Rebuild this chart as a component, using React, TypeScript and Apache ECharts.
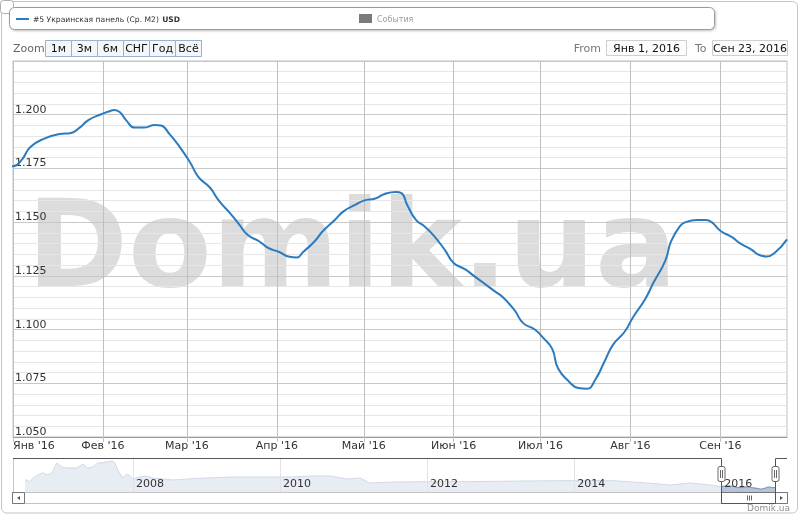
import React, { useEffect, useRef } from 'react';
import * as echarts from 'echarts';

const seriesName = '#5 Украинская панель (Ср. М2)';
const currencyName = 'USD';
const eventsName = 'События';
const zoomLabel = 'Zoom';
const zoomButtons = ['1м', '3м', '6м', 'СНГ', 'Год', 'Всё'];
const fromText = 'From';
const toText = 'To';
const fromValue = 'Янв 1, 2016';
const toValue = 'Сен 23, 2016';
const creditsText = 'Domik.ua';
const watermarkText = 'Domik.ua';
const monthNames = ['Янв', 'Фев', 'Мар', 'Апр', 'Май', 'Июн', 'Июл', 'Авг', 'Сен', 'Окт', 'Ноя', 'Дек'];

const monthTicks = ['2016-01-01', '2016-02-01', '2016-03-01', '2016-04-01', '2016-05-01', '2016-06-01', '2016-07-01', '2016-08-01', '2016-09-01'];
const yearTicks = ['2008-01-01', '2010-01-01', '2012-01-01', '2014-01-01', '2016-01-01'];
const selectionStart = '2016-01-01';

const mainDates = [
  '2015-12-27', '2016-01-01', '2016-01-04', '2016-01-07', '2016-01-12', '2016-01-17', '2016-01-21', '2016-01-24',
  '2016-01-27', '2016-01-31', '2016-02-03', '2016-02-05', '2016-02-07', '2016-02-09', '2016-02-12', '2016-02-15',
  '2016-02-19', '2016-02-21', '2016-02-24', '2016-02-27', '2016-03-02', '2016-03-05', '2016-03-09', '2016-03-12',
  '2016-03-16', '2016-03-19', '2016-03-22', '2016-03-26', '2016-03-29', '2016-04-02', '2016-04-05', '2016-04-08',
  '2016-04-10', '2016-04-14', '2016-04-17', '2016-04-21', '2016-04-24', '2016-04-28', '2016-05-01', '2016-05-05',
  '2016-05-08', '2016-05-12', '2016-05-14', '2016-05-16', '2016-05-19', '2016-05-22', '2016-05-25', '2016-05-29',
  '2016-06-01', '2016-06-05', '2016-06-08', '2016-06-11', '2016-06-15', '2016-06-18', '2016-06-22', '2016-06-25',
  '2016-06-29', '2016-07-02', '2016-07-05', '2016-07-07', '2016-07-11', '2016-07-14', '2016-07-17', '2016-07-20',
  '2016-07-23', '2016-07-26', '2016-07-30', '2016-08-02', '2016-08-06', '2016-08-09', '2016-08-13', '2016-08-15',
  '2016-08-18', '2016-08-20', '2016-08-24', '2016-08-27', '2016-08-29', '2016-09-01', '2016-09-05', '2016-09-08',
  '2016-09-12', '2016-09-14', '2016-09-17', '2016-09-20', '2016-09-24',
];
const mainValues = [
  1.176, 1.176, 1.179, 1.185, 1.189, 1.191, 1.1915, 1.194,
  1.1975, 1.2, 1.2015, 1.2022, 1.201, 1.1975, 1.194, 1.194,
  1.1952, 1.195, 1.191, 1.186, 1.178, 1.171, 1.166, 1.16,
  1.154, 1.149, 1.144, 1.141, 1.138, 1.136, 1.134, 1.1336,
  1.136, 1.141, 1.146, 1.151, 1.155, 1.158, 1.16, 1.161,
  1.163, 1.164, 1.1635, 1.158, 1.151, 1.148, 1.144, 1.137,
  1.131, 1.128, 1.125, 1.122, 1.118, 1.115, 1.109, 1.103,
  1.1, 1.096, 1.091, 1.082, 1.0755, 1.0728, 1.0725, 1.077,
  1.085, 1.093, 1.099, 1.106, 1.114, 1.122, 1.132, 1.141,
  1.148, 1.15, 1.151, 1.151, 1.15, 1.146, 1.143, 1.14,
  1.137, 1.135, 1.134, 1.136, 1.142,
];

const historyDates = [
  '2006-07-14', '2006-07-22', '2006-08-07', '2006-08-22', '2006-09-16', '2006-10-11', '2006-10-31', '2006-11-25',
  '2006-12-19', '2007-01-13', '2007-02-07', '2007-03-29', '2007-04-28', '2007-05-22', '2007-06-16', '2007-07-11',
  '2007-08-05', '2007-08-30', '2007-09-19', '2007-10-04', '2007-10-18', '2007-11-12', '2007-12-02', '2007-12-17',
  '2008-01-01', '2008-02-05', '2008-03-11', '2008-04-09', '2008-05-29', '2008-07-18', '2008-09-25', '2009-01-03',
  '2009-05-12', '2009-10-28', '2010-03-06', '2010-06-13', '2010-09-06', '2010-11-29', '2011-02-02', '2011-03-23',
  '2011-07-15', '2011-12-31', '2012-06-12', '2013-05-11', '2013-11-06', '2014-07-13', '2014-12-28', '2015-04-22',
  '2015-07-30', '2015-11-06',
];
const historyValues = [
  1.434, 1.434, 1.367, 1.513, 1.631, 1.722, 1.631, 1.71,
  2.105, 1.947, 1.907, 1.907, 2.065, 1.907, 1.947, 2.105,
  2.116, 2.156, 2.19, 2.105, 1.829, 1.513, 1.671, 1.592,
  1.474, 1.553, 1.592, 1.513, 1.474, 1.434, 1.474, 1.513,
  1.553, 1.553, 1.553, 1.592, 1.592, 1.474, 1.513, 1.316,
  1.355, 1.367, 1.367, 1.395, 1.407, 1.407, 1.316, 1.237,
  1.316, 1.237,
];

const FONT = 'DejaVu Sans';
const LINE_COLOR = '#2c7bbf';

const toTime = (s: string) => {
  const [y, m, d] = s.split('-').map(Number);
  return new Date(y, m - 1, d).getTime();
};

function buildGraphic(xs: number, xe: number) {
  const els: any[] = [];
  const mid = { verticalAlign: 'middle', textVerticalAlign: 'middle' };
  els.push({ type: 'rect', z: -5, shape: { x: 1.5, y: 1.5, width: 796, height: 511.5, r: 5 }, style: { fill: 'none', stroke: '#c4c4c4', lineWidth: 1 } });
  els.push({ type: 'rect', z: 20, shape: { x: 0.5, y: 0.5, width: 13, height: 13, r: 3 }, style: { fill: '#fff', stroke: '#b0b0b0', lineWidth: 1 } });
  els.push({ type: 'rect', z: 20, shape: { x: 9.5, y: 7.5, width: 705, height: 22, r: 5 }, style: { fill: '#fff', stroke: '#9a9a9a', lineWidth: 1, shadowBlur: 2, shadowOffsetX: 1, shadowOffsetY: 1, shadowColor: 'rgba(0,0,0,0.25)' } });
  els.push({ type: 'line', z: 21, shape: { x1: 16, y1: 19, x2: 29, y2: 19 }, style: { stroke: LINE_COLOR, lineWidth: 2 } });
  els.push({ type: 'text', z: 21, x: 33, y: 19, style: { ...mid, text: '{a|' + seriesName + '} {b|' + currencyName + '}', rich: { a: { fontSize: 7.6, fontFamily: FONT, fill: '#333' }, b: { fontSize: 7.6, fontFamily: FONT, fontWeight: 'bold', fill: '#333' } }, align: 'left' } });
  els.push({ type: 'rect', z: 21, shape: { x: 359, y: 14, width: 13, height: 9 }, style: { fill: '#7a7a7a' } });
  els.push({ type: 'text', z: 21, x: 377, y: 19, style: { ...mid, text: eventsName, fontSize: 8, fontFamily: FONT, fill: '#a0a0a0', align: 'left' } });
  els.push({ type: 'text', z: 21, x: 13, y: 48.5, style: { ...mid, text: zoomLabel, fontSize: 11, fontFamily: FONT, fill: '#666', align: 'left' } });
  const bx = [45.5, 71.5, 97.5, 123.5, 149.5, 175.5, 201.5];
  zoomButtons.forEach((b, i) => {
    els.push({ type: 'rect', z: 21, shape: { x: bx[i], y: 40.5, width: bx[i + 1] - bx[i], height: 16 }, style: { fill: '#f3f6fb', stroke: '#9cb0cc', lineWidth: 1 } });
    els.push({ type: 'text', z: 22, x: (bx[i] + bx[i + 1]) / 2, y: 48.5, style: { ...mid, text: b, fontSize: 11, fontFamily: FONT, fill: '#111', align: 'center', textAlign: 'center' } });
  });
  els.push({ type: 'text', z: 21, x: 601, y: 48.5, style: { ...mid, text: fromText, fontSize: 11, fontFamily: FONT, fill: '#777', align: 'right', textAlign: 'right' } });
  els.push({ type: 'rect', z: 21, shape: { x: 606.5, y: 40.5, width: 80, height: 15 }, style: { fill: '#fcfcfc', stroke: '#cfcfcf', lineWidth: 1 } });
  els.push({ type: 'text', z: 22, x: 646.5, y: 48.5, style: { ...mid, text: fromValue, fontSize: 11, fontFamily: FONT, fill: '#111', align: 'center', textAlign: 'center' } });
  els.push({ type: 'text', z: 21, x: 695, y: 48.5, style: { ...mid, text: toText, fontSize: 11, fontFamily: FONT, fill: '#777', align: 'left' } });
  els.push({ type: 'rect', z: 21, shape: { x: 712.5, y: 40.5, width: 75, height: 15 }, style: { fill: '#fcfcfc', stroke: '#cfcfcf', lineWidth: 1 } });
  els.push({ type: 'text', z: 22, x: 750, y: 48.5, style: { ...mid, text: toValue, fontSize: 11, fontFamily: FONT, fill: '#111', align: 'center', textAlign: 'center' } });
  els.push({ type: 'text', z: -1, x: 352, y: 244, style: { ...mid, text: watermarkText, fontSize: 122, fontFamily: FONT, fontWeight: 'bold', fill: '#dcdcdc', align: 'center', textAlign: 'center' } });
  els.push({ type: 'line', z: 10, shape: { x1: 13.5, y1: 458, x2: 13.5, y2: 492 }, style: { stroke: '#c8c8c8', lineWidth: 1 } });
  els.push({ type: 'rect', z: 10, shape: { x: 12.5, y: 492.5, width: 775, height: 11 }, style: { fill: '#fff', stroke: '#c4c4c4', lineWidth: 1 } });
  els.push({ type: 'rect', z: 11, shape: { x: 12.5, y: 492.5, width: 12, height: 11 }, style: { fill: '#fff', stroke: '#777', lineWidth: 1 } });
  els.push({ type: 'polygon', z: 12, shape: { points: [[17, 498], [20, 496], [20, 500]] }, style: { fill: '#555' } });
  els.push({ type: 'rect', z: 11, shape: { x: 775.5, y: 492.5, width: 12, height: 11 }, style: { fill: '#fff', stroke: '#777', lineWidth: 1 } });
  els.push({ type: 'polygon', z: 12, shape: { points: [[783, 498], [780, 496], [780, 500]] }, style: { fill: '#555' } });
  const sx = Math.round(xs) + 0.5;
  const ex = Math.round(xe) + 0.5;
  els.push({ type: 'rect', z: 11, shape: { x: sx, y: 492.5, width: ex - sx, height: 11 }, style: { fill: '#fff', stroke: '#777', lineWidth: 1 } });
  const mx = Math.round((sx + ex) / 2) + 0.5;
  [-2, 0, 2].forEach((d) => els.push({ type: 'line', z: 12, shape: { x1: mx + d, y1: 495.5, x2: mx + d, y2: 500.5 }, style: { stroke: '#666', lineWidth: 1 } }));
  els.push({ type: 'polyline', z: 13, shape: { points: [[13, 458.5], [sx, 458.5], [sx, 503.5], [ex, 503.5], [ex, 458.5], [787, 458.5]] }, style: { fill: 'none', stroke: '#555', lineWidth: 1 } });
  [sx, ex].forEach((hx) => {
    els.push({ type: 'rect', z: 14, shape: { x: hx - 3.5, y: 466.5, width: 7, height: 15, r: 2 }, style: { fill: '#fff', stroke: '#666', lineWidth: 1 } });
    els.push({ type: 'line', z: 15, shape: { x1: hx - 1, y1: 470, x2: hx - 1, y2: 478 }, style: { stroke: '#666', lineWidth: 1 } });
    els.push({ type: 'line', z: 15, shape: { x1: hx + 1, y1: 470, x2: hx + 1, y2: 478 }, style: { stroke: '#666', lineWidth: 1 } });
  });
  els.push({ type: 'text', z: 21, x: 790, y: 508, style: { ...mid, text: creditsText, fontSize: 9, fontFamily: FONT, fill: '#909090', align: 'right', textAlign: 'right' } });
  return els;
}

export default function App() {
  const ref = useRef<HTMLDivElement>(null);
  useEffect(() => {
    if (!ref.current) return;
    const chart = echarts.init(ref.current, undefined, { renderer: 'svg' });
    const mainData = mainDates.map((d, i) => [toTime(d), mainValues[i]]);
    const navData = historyDates.map((d, i) => [toTime(d), historyValues[i]]).concat(mainData);
    const selStartT = toTime(selectionStart);
    const selData = mainData.filter((p) => p[0] >= selStartT);
    const monthTickTimes = monthTicks.map(toTime);
    const yearTickTimes = yearTicks.map(toTime);
    const option: any = {
      animation: false,
      textStyle: { fontFamily: FONT },
      grid: [
        { left: 13, top: 61, width: 774, height: 376, show: true, borderColor: '#c0c0c0', borderWidth: 1, backgroundColor: 'transparent' },
        { left: 25, top: 458, width: 750, height: 34 },
      ],
      xAxis: [
        {
          type: 'value', gridIndex: 0, min: selStartT, max: mainData[mainData.length - 1][0], scale: true,
          axisLine: { show: true, onZero: false, lineStyle: { color: '#999', width: 1 } },
          axisTick: { show: true, length: 5, lineStyle: { color: '#b8c4d0' }, customValues: monthTickTimes },
          axisLabel: {
            customValues: monthTickTimes, fontSize: 11, color: '#333', margin: 3, fontFamily: FONT,
            alignMinLabel: 'left',
            formatter: (v: number) => { const d = new Date(v); return monthNames[d.getMonth()] + " '" + String(d.getFullYear()).slice(2); },
          },
          splitLine: { show: true, lineStyle: { color: '#c0c0c0', width: 1 } },
        },
        {
          type: 'value', gridIndex: 1, min: 'dataMin', max: 'dataMax', scale: true, z: 5,
          axisLine: { show: false }, axisTick: { show: false, customValues: yearTickTimes },
          axisLabel: {
            customValues: yearTickTimes, inside: true, align: 'left', padding: [0, 0, 0, 3], margin: 3, fontSize: 11, color: '#333', fontFamily: FONT,
            formatter: (v: number) => String(new Date(v).getFullYear()),
          },
          splitLine: { show: true, lineStyle: { color: '#e2e2e2', width: 1 } },
        },
      ],
      yAxis: [
        {
          type: 'value', gridIndex: 0, min: 1.05, max: 1.225, interval: 0.025,
          axisLine: { show: false }, axisTick: { show: false },
          axisLabel: { inside: true, margin: 2, verticalAlign: 'bottom', showMaxLabel: false, fontSize: 11, color: '#333', fontFamily: FONT, formatter: (v: number) => v.toFixed(3) },
          splitLine: { show: true, lineStyle: { color: '#c8c8c8', width: 1 } },
          minorTick: { show: false, splitNumber: 5 },
          minorSplitLine: { show: true, lineStyle: { color: '#e6e6e6', width: 1 } },
        },
        {
          type: 'value', gridIndex: 1, show: false, scale: true,
          min: (e: any) => e.min - 0.1 * (e.max - e.min),
          max: (e: any) => e.max + 0.1 * (e.max - e.min),
          splitLine: { show: false },
        },
      ],
      series: [
        {
          name: seriesName, type: 'line', xAxisIndex: 0, yAxisIndex: 0, data: mainData, smooth: 0.5,
          showSymbol: false, symbol: 'none', clip: false, z: 5,
          lineStyle: { color: LINE_COLOR, width: 2 },
        },
        {
          name: 'nav', type: 'line', xAxisIndex: 1, yAxisIndex: 1, data: navData, symbol: 'none', z: 2,
          lineStyle: { color: '#d2d9e6', width: 1 }, areaStyle: { color: '#e8ecf3', opacity: 1 },
        },
        {
          name: 'navSel', type: 'line', xAxisIndex: 1, yAxisIndex: 1, data: selData, symbol: 'none', z: 3, smooth: 0.3,
          lineStyle: { color: '#6a86b6', width: 1 }, areaStyle: { color: '#b6c3db', opacity: 1 },
        },
      ],
    };
    chart.setOption(option);
    const xs = chart.convertToPixel({ xAxisIndex: 1 }, selData[0][0]) as number;
    const xe = chart.convertToPixel({ xAxisIndex: 1 }, selData[selData.length - 1][0]) as number;
    chart.setOption({ graphic: { elements: buildGraphic(xs, xe) } });
    return () => chart.dispose();
  }, []);
  return <div ref={ref} style={{ position: 'fixed', left: 0, top: 0, width: 800, height: 516 }} />;
}
